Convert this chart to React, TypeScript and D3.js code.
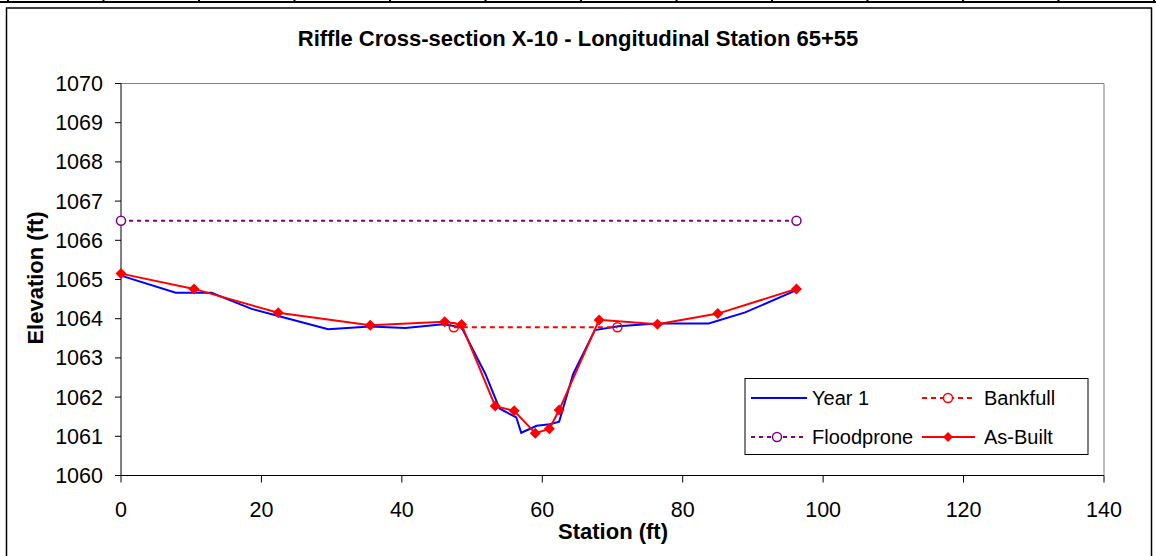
import React from "react";
import * as d3 from "d3";

const year1Station = [0, 7.8, 12.9, 18.6, 22.4, 29.5, 35.5, 40.5, 45.9, 48.5, 51.9, 53.9, 56.3, 57.0, 59.2, 61.1, 62.4, 64.4, 67.5, 70.8, 76.3, 78.4, 83.7, 88.9, 96.2];
const year1Elev = [1065.1, 1064.66, 1064.66, 1064.25, 1064.07, 1063.73, 1063.8, 1063.76, 1063.86, 1063.78, 1062.59, 1061.71, 1061.48, 1061.09, 1061.27, 1061.31, 1061.37, 1062.59, 1063.71, 1063.81, 1063.88, 1063.88, 1063.88, 1064.16, 1064.73];

const asBuiltStation = [0, 10.4, 22.4, 35.5, 46.1, 48.5, 53.3, 56.0, 59.0, 61.0, 62.4, 68.1, 76.4, 85.0, 96.2];
const asBuiltElev = [1065.15, 1064.76, 1064.15, 1063.83, 1063.92, 1063.85, 1061.77, 1061.65, 1061.08, 1061.19, 1061.67, 1063.97, 1063.86, 1064.13, 1064.76];

const bankfullStation = [47.4, 70.7];
const bankfullElev = [1063.78, 1063.78];

const floodStation = [0, 96.2];
const floodElev = [1066.5, 1066.5];

const xTicks = [0, 20, 40, 60, 80, 100, 120, 140];
const yTicks = [1060, 1061, 1062, 1063, 1064, 1065, 1066, 1067, 1068, 1069, 1070];

const title = "Riffle Cross-section X-10 - Longitudinal Station 65+55";
const xTitle = "Station (ft)";
const yTitle = "Elevation (ft)";
const legendNames = ["Year 1", "Bankfull", "Floodprone", "As-Built"];

const FONT = "'Liberation Sans', Arial, sans-serif";

function diamond(cx: number, cy: number, r: number) {
  return `M${cx},${cy - r}L${cx + r},${cy}L${cx},${cy + r}L${cx - r},${cy}Z`;
}

export default function App() {
  const W = 1156;
  const H = 556;
  const x = d3.scaleLinear().domain([0, 140]).range([121, 1104]);
  const y = d3.scaleLinear().domain([1060, 1070]).range([475.5, 83.5]);

  const line = d3
    .line<[number, number]>()
    .x((d) => x(d[0]))
    .y((d) => y(d[1]));

  const year1 = year1Station.map((s, i) => [s, year1Elev[i]] as [number, number]);
  const asBuilt = asBuiltStation.map((s, i) => [s, asBuiltElev[i]] as [number, number]);
  const bankfull = bankfullStation.map((s, i) => [s, bankfullElev[i]] as [number, number]);
  const flood = floodStation.map((s, i) => [s, floodElev[i]] as [number, number]);

  const cellLines = d3.range(13).map((i) => 8 + i * 95.5);

  const [x0, x1] = x.range();
  const [yb, yt] = y.range();

  return (
    <div style={{ position: "absolute", left: 0, top: 0, width: W, height: H, background: "#fff" }}>
      <svg width={W} height={H} style={{ display: "block" }} fontFamily={FONT}>
        <rect x={0} y={0} width={W} height={H} fill="#fff" />
        {/* spreadsheet cell strip */}
        <line x1={0} x2={W} y1={2} y2={2} stroke="#000" strokeWidth={2} />
        {cellLines.map((cx, i) => (
          <line key={i} x1={cx} x2={cx} y1={0} y2={2} stroke="#000" strokeWidth={2} />
        ))}
        {/* chart border */}
        <rect x={6.5} y={8} width={1145} height={560} fill="#fff" stroke="#000" strokeWidth={1.5} />

        {/* title */}
        <text x={578} y={46} textAnchor="middle" fontSize={22} fontWeight="bold" fill="#000">
          {title}
        </text>

        {/* plot area border */}
        <line x1={x0} x2={x1} y1={yt} y2={yt} stroke="#808080" strokeWidth={1} />
        <line x1={x1} x2={x1} y1={yt} y2={yb} stroke="#808080" strokeWidth={1} />

        {/* axes */}
        <line x1={x0} x2={x0} y1={yt} y2={yb} stroke="#000" strokeWidth={1} />
        <line x1={x0} x2={x1} y1={yb} y2={yb} stroke="#000" strokeWidth={1} />
        {yTicks.map((t) => (
          <g key={t}>
            <line x1={x0 - 6} x2={x0} y1={y(t)} y2={y(t)} stroke="#000" />
            <text x={103} y={y(t) + 7.5} textAnchor="end" fontSize={21.5} fill="#000">
              {t}
            </text>
          </g>
        ))}
        {xTicks.map((t) => (
          <g key={t}>
            <line x1={x(t)} x2={x(t)} y1={yb} y2={yb + 7} stroke="#000" />
            <text x={x(t)} y={517} textAnchor="middle" fontSize={21.5} fill="#000">
              {t}
            </text>
          </g>
        ))}
        <text x={613} y={539} textAnchor="middle" fontSize={22} fontWeight="bold" fill="#000">
          {xTitle}
        </text>
        <text
          transform={`translate(43,278) rotate(-90)`}
          textAnchor="middle"
          fontSize={22}
          fontWeight="bold"
          fill="#000"
        >
          {yTitle}
        </text>

        {/* series */}
        <path d={line(year1) || ""} fill="none" stroke="#0000ff" strokeWidth={2} />
        <path d={line(flood) || ""} fill="none" stroke="#800080" strokeWidth={2} strokeDasharray="4,4" />
        {flood.map((d, i) => (
          <circle key={i} cx={x(d[0])} cy={y(d[1])} r={4.5} fill="#fff" stroke="#800080" strokeWidth={1.5} />
        ))}
        <path d={line(bankfull) || ""} fill="none" stroke="#ff0000" strokeWidth={2} strokeDasharray="5,4" />
        {bankfull.map((d, i) => (
          <circle key={i} cx={x(d[0])} cy={y(d[1])} r={4.5} fill="#fff" fillOpacity={0} stroke="#ff0000" strokeWidth={1.5} />
        ))}
        <path d={line(asBuilt) || ""} fill="none" stroke="#ff0000" strokeWidth={2} />
        {asBuilt.map((d, i) => (
          <path key={i} d={diamond(x(d[0]), y(d[1]), 5.5)} fill="#ff0000" />
        ))}

        {/* legend */}
        <rect x={745} y={378.5} width={343} height={76} fill="#fff" stroke="#000" strokeWidth={1} />
        <line x1={751} x2={807} y1={398} y2={398} stroke="#0000ff" strokeWidth={2} />
        <text x={812} y={405} fontSize={20} fill="#000">{legendNames[0]}</text>
        <line x1={922} x2={975} y1={398} y2={398} stroke="#ff0000" strokeWidth={2} strokeDasharray="5,4" />
        <circle cx={948} cy={398} r={4.5} fill="#fff" stroke="#ff0000" strokeWidth={1.5} />
        <text x={984} y={405} fontSize={20} fill="#000">{legendNames[1]}</text>
        <line x1={751} x2={807} y1={437} y2={437} stroke="#800080" strokeWidth={2} strokeDasharray="4,4" />
        <circle cx={777} cy={437} r={4.5} fill="#fff" stroke="#800080" strokeWidth={1.5} />
        <text x={812} y={444} fontSize={20} fill="#000">{legendNames[2]}</text>
        <line x1={922} x2={975} y1={437} y2={437} stroke="#ff0000" strokeWidth={2} />
        <path d={diamond(948, 437, 5)} fill="#ff0000" />
        <text x={984} y={444} fontSize={20} fill="#000">{legendNames[3]}</text>
      </svg>
    </div>
  );
}
